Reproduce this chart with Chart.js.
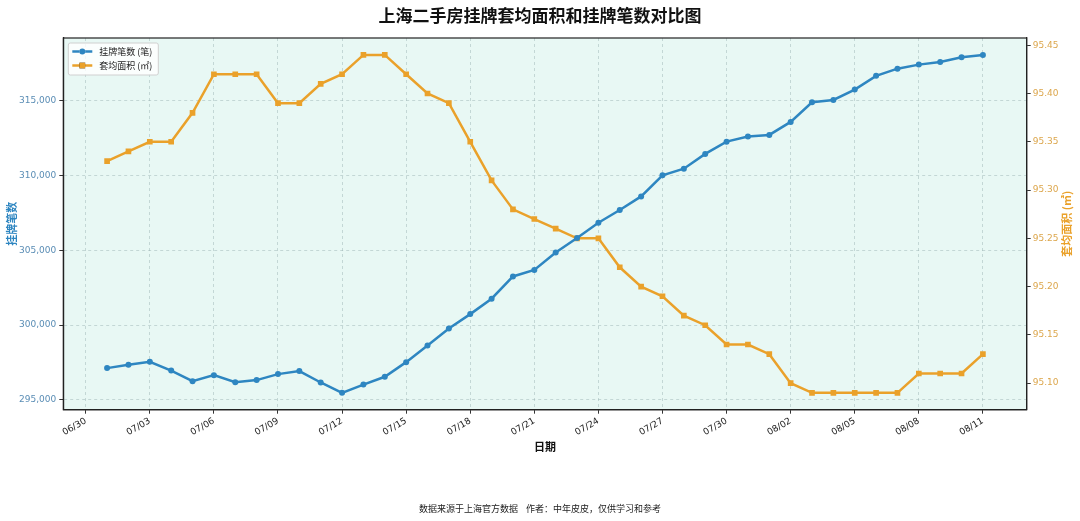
<!DOCTYPE html>
<html>
<head>
<meta charset="utf-8">
<script src="https://cdn.jsdelivr.net/npm/chart.js@4.4.1/dist/chart.umd.min.js"></script>
<style>
  html, body { margin: 0; padding: 0; background: #fff; }
  #wrap { width: 1080px; height: 521px; }
</style>
</head>
<body>
<div id="wrap"><canvas id="chart"></canvas></div>
<script>
const dates = [
  '07/01', '07/02', '07/03', '07/04', '07/05', '07/06', '07/07', '07/08', '07/09', '07/10',
  '07/11', '07/12', '07/13', '07/14', '07/15', '07/16', '07/17', '07/18', '07/19', '07/20',
  '07/21', '07/22', '07/23', '07/24', '07/25', '07/26', '07/27', '07/28', '07/29', '07/30',
  '07/31', '08/01', '08/02', '08/03', '08/04', '08/05', '08/06', '08/07', '08/08', '08/09',
  '08/10', '08/11'
];
const listings = [
  297120, 297340, 297540, 296960, 296250, 296650, 296180, 296320, 296720, 296920,
  296160, 295470, 296020, 296540, 297520, 298630, 299770, 300730, 301760, 303250,
  303680, 304850, 305820, 306840, 307690, 308600, 310010, 310450, 311440, 312260,
  312600, 312710, 313580, 314890, 315050, 315740, 316660, 317140, 317410, 317590,
  317900, 318060
];
const avgArea = [
  95.33, 95.34, 95.35, 95.35, 95.38, 95.42, 95.42, 95.42, 95.39, 95.39,
  95.41, 95.42, 95.44, 95.44, 95.42, 95.40, 95.39, 95.35, 95.31, 95.28,
  95.27, 95.26, 95.25, 95.25, 95.22, 95.20, 95.19, 95.17, 95.16, 95.14,
  95.14, 95.13, 95.10, 95.09, 95.09, 95.09, 95.09, 95.09, 95.11, 95.11,
  95.11, 95.13
];
const xTickLabels = ['06/30', '07/03', '07/06', '07/09', '07/12', '07/15', '07/18', '07/21',
  '07/24', '07/27', '07/30', '08/02', '08/05', '08/08', '08/11'];
const leftTicks = [295000, 300000, 305000, 310000, 315000];
const rightTicks = [95.10, 95.15, 95.20, 95.25, 95.30, 95.35, 95.40, 95.45];

const BLUE = '#2e86c1';
const ORANGE = '#eaa12a';
const FONT = '"DejaVu Sans", "Noto Sans CJK SC", sans-serif';
const CJK = '"Noto Sans CJK SC", "DejaVu Sans", sans-serif';

// days since 06/30
function dayNum(md) {
  const [m, d] = md.split('/').map(Number);
  return Math.round((Date.UTC(2025, m - 1, d) - Date.UTC(2025, 5, 30)) / 86400000);
}

function pad(arr, frac) {
  const lo = Math.min(...arr), hi = Math.max(...arr);
  const m = (hi - lo) * frac;
  return [lo - m, hi + m];
}

const xs = dates.map(dayNum);
const [xMin, xMax] = pad(xs, 0.05);
const [lMin, lMax] = pad(listings, 0.05);
const [rMin, rMax] = pad(avgArea, 0.05);

const frame = {
  id: 'frame',
  beforeDraw(chart) {
    const a = chart.chartArea, ctx = chart.ctx;
    ctx.save();
    ctx.fillStyle = '#e8f8f4';
    ctx.fillRect(a.left, a.top, a.right - a.left, a.bottom - a.top);
    ctx.restore();
  },
  afterDatasetsDraw(chart) {
    const a = chart.chartArea, ctx = chart.ctx;
    ctx.save();
    ctx.strokeStyle = '#222';
    ctx.lineWidth = 1.2;
    ctx.strokeRect(a.left, a.top, a.right - a.left, a.bottom - a.top);

    // legend box, top-left inside the plot
    const bx = a.left + 5, by = a.top + 5;
    ctx.fillStyle = 'rgba(255,255,255,0.8)';
    ctx.strokeStyle = '#d0d0d0';
    ctx.lineWidth = 1;
    ctx.beginPath();
    ctx.roundRect(bx, by, 90, 32, 2);
    ctx.fill();
    ctx.stroke();
    chart.data.datasets.forEach((ds, i) => {
      const y = by + 8.5 + i * 14;
      ctx.strokeStyle = ds.borderColor;
      ctx.lineWidth = 2.5;
      ctx.beginPath();
      ctx.moveTo(bx + 4, y);
      ctx.lineTo(bx + 24, y);
      ctx.stroke();
      Chart.helpers.drawPoint(ctx, {pointStyle: ds.pointStyle, radius: ds.pointRadius, borderWidth: 0}, bx + 14, y);
      ctx.fillStyle = ds.borderColor;
      ctx.fill();
      ctx.fillStyle = '#222';
      ctx.font = '9px ' + CJK;
      ctx.textBaseline = 'middle';
      ctx.fillText(ds.label, bx + 31, y);
    });
    ctx.restore();
  },
  afterDraw(chart) {
    const a = chart.chartArea, ctx = chart.ctx;
    ctx.save();
    ctx.translate(1067, (a.top + a.bottom) / 2);
    ctx.rotate(-Math.PI / 2);
    ctx.fillStyle = ORANGE;
    ctx.font = 'bold 11px ' + CJK;
    ctx.textAlign = 'center';
    ctx.textBaseline = 'middle';
    ctx.fillText('套均面积 (㎡)', 0, 0);
    ctx.restore();
  }
};

new Chart(document.getElementById('chart'), {
  type: 'line',
  data: {
    datasets: [{
      label: '挂牌笔数 (笔)',
      data: dates.map((d, i) => ({x: xs[i], y: listings[i]})),
      yAxisID: 'y',
      borderColor: BLUE,
      backgroundColor: BLUE,
      borderWidth: 2.5,
      pointStyle: 'circle',
      pointRadius: 3,
      pointBorderWidth: 0,
      tension: 0
    }, {
      label: '套均面积 (㎡)',
      data: dates.map((d, i) => ({x: xs[i], y: avgArea[i]})),
      yAxisID: 'y1',
      borderColor: ORANGE,
      backgroundColor: ORANGE,
      borderWidth: 2.5,
      pointStyle: 'rect',
      pointRadius: 4,
      pointBorderWidth: 0,
      tension: 0
    }]
  },
  options: {
    responsive: true,
    maintainAspectRatio: false,
    animation: false,
    layout: { padding: 0 },
    plugins: {
      legend: { display: false },
      tooltip: { enabled: false },
      title: {
        display: true,
        text: '上海二手房挂牌套均面积和挂牌笔数对比图',
        color: '#111',
        font: { family: CJK, size: 17, weight: 'bold' },
        padding: { top: 5, bottom: 12.6 }
      },
      subtitle: {
        display: true,
        position: 'bottom',
        text: '数据来源于上海官方数据    作者：中年皮皮，仅供学习和参考',
        color: '#222',
        font: { family: CJK, size: 9 },
        padding: { top: 0, bottom: 7 }
      }
    },
    scales: {
      x: {
        type: 'linear',
        min: xMin,
        max: xMax,
        afterBuildTicks: s => { s.ticks = xTickLabels.map(l => ({value: dayNum(l)})); },
        afterFit: s => { s.height = 93.5; },
        ticks: {
          autoSkip: false,
          minRotation: 30,
          maxRotation: 30,
          padding: 2,
          color: '#222',
          font: { family: FONT, size: 9 },
          callback: v => xTickLabels.find(l => dayNum(l) === v) || ''
        },
        grid: { color: 'rgba(150,175,175,0.45)', tickColor: '#333', tickLength: 4, tickBorderDash: [] },
        border: { display: true, color: '#222', width: 1.2, dash: [3, 3] },
        title: {
          display: true,
          text: '日期',
          color: '#111',
          font: { family: CJK, size: 11, weight: 'bold' },
          padding: { top: 0, bottom: 50 }
        }
      },
      y: {
        position: 'left',
        min: lMin,
        max: lMax,
        afterBuildTicks: s => { s.ticks = leftTicks.map(v => ({value: v})); },
        afterFit: s => { s.width = 63.3; },
        ticks: {
          padding: 3,
          color: '#5a8db5',
          font: { family: FONT, size: 9 },
          callback: v => v.toLocaleString('en-US')
        },
        grid: { color: 'rgba(150,175,175,0.45)', tickColor: '#333', tickLength: 4, tickBorderDash: [] },
        border: { display: true, color: '#222', width: 1.2, dash: [3, 3] },
        title: {
          display: true,
          text: '挂牌笔数',
          color: BLUE,
          font: { family: CJK, size: 11, weight: 'bold' },
          padding: { top: 5, bottom: 0 }
        }
      },
      y1: {
        position: 'right',
        min: rMin,
        max: rMax,
        afterBuildTicks: s => { s.ticks = rightTicks.map(v => ({value: v})); },
        afterFit: s => { s.width = 53.3; },
        ticks: {
          padding: 2,
          color: '#dca64c',
          font: { family: FONT, size: 9 },
          callback: v => v.toFixed(2)
        },
        grid: { drawOnChartArea: false, color: 'rgba(0,0,0,0)', tickColor: '#333', tickLength: 4, tickBorderDash: [] },
        border: { display: true, color: '#222', width: 1.2 }
      }
    }
  },
  plugins: [frame]
});
</script>
</body>
</html>
